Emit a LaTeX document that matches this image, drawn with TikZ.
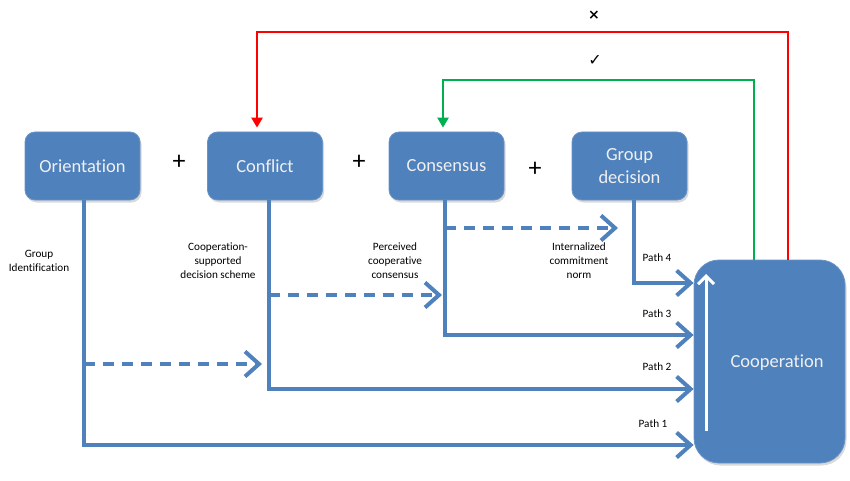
\documentclass[tikz,border=0pt]{standalone}
\usepackage{fontspec}
\setmainfont{Carlito}[Ligatures={NoCommon,NoRequired,NoContextual}]
\newfontfamily\symfont{DejaVu Sans}
\usetikzlibrary{arrows.meta,shadows,calc}
\definecolor{boxblue}{RGB}{79,129,189}
\definecolor{redl}{RGB}{255,0,0}
\definecolor{greenl}{RGB}{0,176,80}
\begin{document}
\begin{tikzpicture}[x=1pt,y=-1pt,
  stage/.style={rounded corners=10pt, fill=boxblue, draw=boxblue!85!white, line width=0.8pt,
    minimum width=115pt, minimum height=68pt, inner sep=2pt, text=white!94!black,
    font=\fontsize{18.5}{23}\selectfont, align=center,
    drop shadow={opacity=0.3, shadow xshift=1.5pt, shadow yshift=-2.5pt}},
  bigbox/.style={rounded corners=25pt, fill=boxblue, draw=boxblue!85!white, line width=0.8pt,
    minimum width=151pt, minimum height=203pt, inner sep=0pt,
    drop shadow={opacity=0.3, shadow xshift=1.5pt, shadow yshift=-2.5pt}},
  plus/.style={font=\fontsize{26}{26}\selectfont},
  lab/.style={font=\fontsize{11.2}{14}\selectfont, align=center, inner sep=0pt},
  pathline/.style={draw=boxblue, line width=4pt, line join=miter,
    -{Straight Barb[length=14pt,width=25pt]}},
  dashline/.style={pathline, dash pattern=on 11pt off 8pt},
  fbred/.style={draw=redl, line width=2.5pt, -{Triangle[length=10pt,width=11pt]}},
  fbgreen/.style={draw=greenl, line width=2.5pt, -{Triangle[length=10pt,width=11pt]}},
  uparrow/.style={draw=white, line width=3pt, -{Straight Barb[length=8pt,width=16pt]}}
]
\useasboundingbox (0,0) rectangle (850,481);

% boxes
\node[stage] (ori) at (82.5,166) {Orientation};
\node[stage] (con) at (265,166) {Conflict};
\node[stage] (cns) at (446.5,166) {Consensus};
\node[stage] (gd)  at (629.5,166) {Group\\decision};
\node[bigbox] (coop) at (769.5,361.5) {};
\node[text=white!94!black, font=\fontsize{18.5}{23}\selectfont] (cooptxt) at (777,363) {Cooperation};

% plus signs
\node[plus] (pl1) at (179,162) {+};
\node[plus] (pl2) at (359,162) {+};
\node[plus] (pl3) at (535,169) {+};

% coordinates
\coordinate (o0) at (ori.south -| 84,0);
\coordinate (c0) at (con.south -| 269,0);
\coordinate (n0) at (cns.south -| 445,0);
\coordinate (g0) at (gd.south -| 634,0);
\coordinate (p1) at (coop.west |- 0,445);
\coordinate (p2) at (coop.west |- 0,389);
\coordinate (p3) at (coop.west |- 0,335);
\coordinate (p4) at (coop.west |- 0,283);

% solid paths
\draw[pathline] (o0) |- (p1);
\draw[pathline] (c0) |- (p2);
\draw[pathline] (n0) |- (p3);
\draw[pathline] (g0) |- (p4);

% dashed paths
\coordinate (d1s) at (84,364);
\coordinate (d1e) at (262,364);
\coordinate (d2s) at (269,295);
\coordinate (d2e) at (442,295);
\coordinate (d3s) at (445,228);
\coordinate (d3e) at (618,228);
\draw[dashline] (d1s) -- (d1e);
\draw[dashline] (d2s) -- (d2e);
\draw[dashline] (d3s) -- (d3e);

% white arrow inside cooperation
\coordinate (w0) at (706,431);
\coordinate (w1) at (706,274);
\draw[uparrow] (w0) -- (w1);

% feedback loops
\draw[fbred] (coop.north -| 788,0) |- (257,32) -- ($(con.north -| 257,0)+(0,-4)$);
\draw[fbgreen] (coop.north -| 754,0) |- (443,80) -- ($(cns.north -| 443,0)+(0,-4)$);
\node[font=\symfont\bfseries\fontsize{14}{14}\selectfont] (xmark) at (594,15) {×};
\node[font=\symfont\fontsize{16}{16}\selectfont] (cmark) at (595,60) {✓};

% labels
\node[lab] (lgi) at (39,261) {Group\\Identification};
\node[lab] (lcs) at (218,261) {Cooperation-\\supported\\decision scheme};
\node[lab] (lpc) at (395,261) {Perceived\\cooperative\\consensus};
\node[lab] (lic) at (579,261) {Internalized\\commitment\\norm};
\node[lab] (lp4) at (657,258) {Path 4};
\node[lab] (lp3) at (657,314) {Path 3};
\node[lab] (lp2) at (657,367) {Path 2};
\node[lab] (lp1) at (653,424) {Path 1};
\end{tikzpicture}
\end{document}
